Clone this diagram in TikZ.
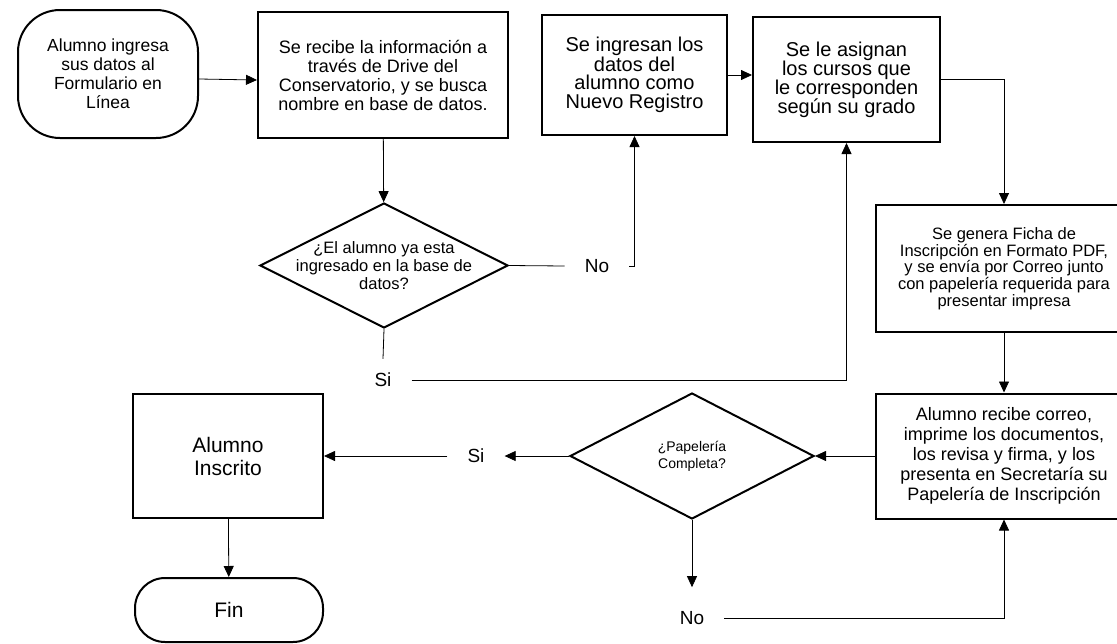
\documentclass[tikz,border=0pt]{standalone}
\usepackage{fontspec}
\setmainfont{Liberation Sans}
\usetikzlibrary{shapes.geometric,arrows.meta}

\begin{document}
\begin{tikzpicture}[x=1pt, y=-1pt, >={Triangle[width=10pt,length=11pt]},
    box/.style={draw, rectangle, line width=2pt, align=center},
    term/.style={draw, rectangle, line width=2pt, align=center},
    decision/.style={draw, diamond, aspect=2, line width=2pt, align=center},
    answer/.style={inner xsep=20pt, inner ysep=14pt, font=\fontsize{19}{21}\selectfont},
    line/.style={line width=0.8pt}]
	     \useasboundingbox (0,0) rectangle (1117,643);

	     \node[term, rounded corners=42pt, minimum width=180pt, minimum height=128pt, font=\fontsize{17.5}{19}\selectfont] (start) at (108,74) {Alumno ingresa\\sus datos al\\Formulario en\\Línea};
	     \node[box, minimum width=250pt, minimum height=126pt, font=\fontsize{18}{19}\selectfont] (recibe) at (383,75) {Se recibe la información a\\través de Drive del\\Conservatorio, y se busca\\nombre en base de datos.};
	     \node[box, minimum width=185pt, minimum height=120pt, font=\fontsize{20}{18.5}\selectfont] (nuevo) at (634.5,75) {Se ingresan los\\datos del\\alumno como\\Nuevo Registro};
	     \node[box, minimum width=187pt, minimum height=125pt, font=\fontsize{20}{19}\selectfont] (cursos) at (846.5,79.5) {Se le asignan\\los cursos que\\le corresponden\\según su grado};
	     \node[box, minimum width=256pt, minimum height=127pt, font=\fontsize{16.5}{16.7}\selectfont] (ficha) at (1004,268.5) {Se genera Ficha de\\Inscripción en Formato PDF,\\y se envía por Correo junto\\con papelería requerida para\\presentar impresa};
	     \node[box, minimum width=256pt, minimum height=125pt, font=\fontsize{18}{20}\selectfont] (correo) at (1004,456) {Alumno recibe correo,\\imprime los documentos,\\los revisa y firma, y los\\presenta en Secretaría su\\Papelería de Inscripción};
	     \node[decision, inner sep=-10pt, minimum width=248pt, minimum height=125pt, font=\fontsize{16.5}{18}\selectfont] (existe) at (384,265.5) {¿El alumno ya esta\\ingresado en la base de\\datos?};
	     \node[decision, inner sep=0pt, minimum width=244pt, minimum height=126pt, font=\fontsize{14}{17}\selectfont] (completa) at (692,456) {¿Papelería\\Completa?};
	     \node[box, minimum width=190pt, minimum height=124pt, font=\fontsize{21}{23}\selectfont] (inscrito) at (228,456) {Alumno\\Inscrito};
	     \node[term, rounded corners=30pt, minimum width=188pt, minimum height=64pt, font=\fontsize{21}{23}\selectfont] (fin) at (229,610) {Fin};

	     \node[answer] (noA) at (597,266) {No};
	     \node[answer] (siA) at (383,380) {Si};
	     \node[answer] (siB) at (476,456) {Si};
	     \node[answer, inner ysep=24pt] (noB) at (692,618) {No};

	     \draw[line,->] ([yshift=-5pt]start.east) -- ([yshift=-5pt]recibe.west);
	     \draw[line,->] (recibe) -- (existe);
	     \draw[line] (existe.east) -- (noA.west);
	     \draw[line,->] (noA.east) -| (nuevo.south);
	     \draw[line,->] (nuevo.east) -- (nuevo.east -| cursos.west);
	     \draw[line] (existe.south) -- (siA.north);
	     \draw[line,->] (siA.east) -| (cursos.south);
	     \draw[line,->] (cursos.east) -| (ficha.north);
	     \draw[line,->] (ficha) -- (correo);
	     \draw[line,->] (correo) -- (completa);
	     \draw[line,->] (completa.west) -- (siB.east);
	     \draw[line,->] (siB.west) -- (inscrito.east);
	     \draw[line,->] (inscrito) -- (fin);
	     \draw[line,->] (completa.south) -- (noB.north);
	     \draw[line,->] (noB.east) -| (correo.south);
	     \end{tikzpicture}
\end{document}
